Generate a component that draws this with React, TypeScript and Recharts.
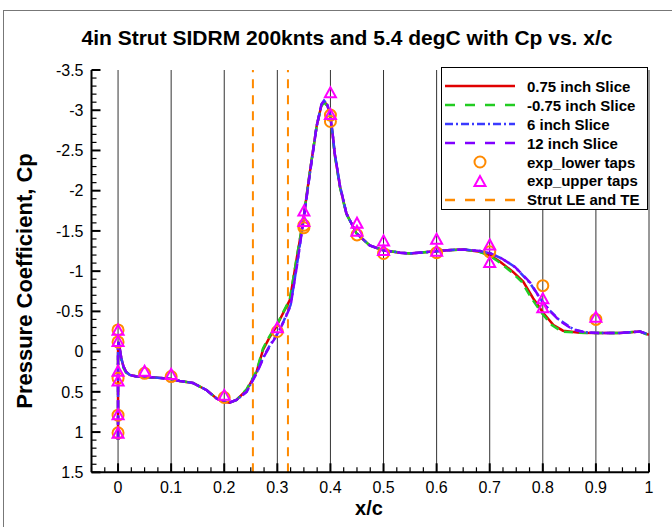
import React from "react";
import { ComposedChart, Line, Scatter, XAxis, YAxis, ReferenceLine, Legend } from "recharts";

const FONT = "'Liberation Sans', Arial, Helvetica, sans-serif";

const X_TICKS = [0, 0.1, 0.2, 0.3, 0.4, 0.5, 0.6, 0.7, 0.8, 0.9, 1];
const X_TICK_LABELS = ["0", "0.1", "0.2", "0.3", "0.4", "0.5", "0.6", "0.7", "0.8", "0.9", "1"];
const Y_TICKS = [-3.5, -3, -2.5, -2, -1.5, -1, -0.5, 0, 0.5, 1, 1.5];
const Y_TICK_LABELS = ["-3.5", "-3", "-2.5", "-2", "-1.5", "-1", "-0.5", "0", "0.5", "1", "1.5"];
// minor ticks: every 0.025 on x, every 0.1 on y
const X_ALL_TICKS = Array.from({ length: 43 }, (_, i) => Math.round((i - 2) * 25) / 1000);
const Y_ALL_TICKS = Array.from({ length: 51 }, (_, i) => (i - 35) / 10);

// strut leading / trailing edge
const STRUT_X = [0.254, 0.32];

// 0.75 inch slice
const X_075 = [0, 0, 0, 0, 0.001, 0.003, 0.006, 0.01, 0.015, 0.022, 0.035, 0.05, 0.075, 0.1, 0.116, 0.141, 0.167, 0.185, 0.198, 0.21, 0.223, 0.242, 0.261, 0.273, 0.286, 0.298, 0.311, 0.3235, 0.336, 0.349, 0.361, 0.374, 0.383, 0.388, 0.394, 0.399, 0.404, 0.408, 0.418, 0.43, 0.449, 0.474, 0.499, 0.531, 0.55, 0.587, 0.62, 0.65, 0.682, 0.7, 0.719, 0.744, 0.763, 0.782, 0.801, 0.82, 0.838, 0.87, 0.901, 0.945, 0.983, 1.0];
const CP_075 = [1.1, 0.6, 0.2, -0.05, -0.12, -0.05, 0.08, 0.18, 0.25, 0.29, 0.31, 0.315, 0.325, 0.34, 0.365, 0.39, 0.48, 0.58, 0.62, 0.635, 0.6, 0.48, 0.25, -0.02, -0.185, -0.31, -0.48, -0.64, -1.14, -1.64, -2.22, -2.8, -3.06, -3.11, -3.06, -2.96, -2.71, -2.46, -2.05, -1.72, -1.47, -1.32, -1.26, -1.23, -1.22, -1.24, -1.26, -1.27, -1.24, -1.2, -1.12, -0.99, -0.87, -0.66, -0.48, -0.33, -0.26, -0.235, -0.23, -0.23, -0.25, -0.21];

// -0.75 inch slice
const X_M075 = [0, 0, 0, 0, 0.001, 0.003, 0.006, 0.01, 0.015, 0.022, 0.035, 0.05, 0.075, 0.1, 0.116, 0.141, 0.167, 0.185, 0.198, 0.21, 0.223, 0.242, 0.261, 0.273, 0.286, 0.298, 0.311, 0.3235, 0.336, 0.349, 0.361, 0.374, 0.383, 0.388, 0.394, 0.399, 0.404, 0.408, 0.418, 0.43, 0.449, 0.474, 0.499, 0.531, 0.55, 0.587, 0.62, 0.65, 0.68, 0.698, 0.716, 0.741, 0.76, 0.779, 0.798, 0.817, 0.836, 0.868, 0.901, 0.945, 0.983, 1.0];
const CP_M075 = [1.1, 0.6, 0.2, -0.05, -0.1, -0.02, 0.1, 0.2, 0.26, 0.29, 0.31, 0.315, 0.325, 0.34, 0.365, 0.39, 0.48, 0.58, 0.62, 0.635, 0.6, 0.47, 0.24, -0.04, -0.2, -0.32, -0.49, -0.65, -1.15, -1.65, -2.22, -2.8, -3.05, -3.1, -3.05, -2.95, -2.7, -2.45, -2.04, -1.71, -1.47, -1.32, -1.26, -1.23, -1.22, -1.24, -1.26, -1.27, -1.24, -1.2, -1.12, -0.99, -0.87, -0.66, -0.48, -0.33, -0.25, -0.235, -0.23, -0.23, -0.25, -0.2];

// 6 inch slice
const X_6 = [0, 0, 0, 0, 0.001, 0.003, 0.006, 0.01, 0.015, 0.022, 0.035, 0.05, 0.075, 0.1, 0.116, 0.141, 0.167, 0.185, 0.198, 0.21, 0.223, 0.242, 0.262, 0.275, 0.288, 0.3, 0.312, 0.325, 0.337, 0.349, 0.361, 0.374, 0.383, 0.388, 0.394, 0.399, 0.404, 0.408, 0.418, 0.43, 0.449, 0.474, 0.499, 0.531, 0.55, 0.587, 0.62, 0.65, 0.682, 0.702, 0.722, 0.748, 0.776, 0.795, 0.812, 0.83, 0.857, 0.88, 0.905, 0.945, 0.983, 1.0];
const CP_6 = [1.1, 0.6, 0.2, -0.05, -0.12, -0.05, 0.08, 0.18, 0.25, 0.29, 0.31, 0.315, 0.325, 0.34, 0.365, 0.39, 0.48, 0.58, 0.62, 0.635, 0.6, 0.5, 0.25, 0.05, -0.1, -0.22, -0.38, -0.58, -1.08, -1.62, -2.2, -2.8, -3.07, -3.12, -3.07, -2.97, -2.72, -2.47, -2.06, -1.72, -1.47, -1.32, -1.26, -1.23, -1.22, -1.24, -1.26, -1.27, -1.25, -1.22, -1.16, -1.05, -0.85, -0.66, -0.52, -0.4, -0.28, -0.24, -0.23, -0.23, -0.25, -0.21];

// 12 inch slice
const X_12 = [0, 0, 0, 0, 0.001, 0.003, 0.006, 0.01, 0.015, 0.022, 0.035, 0.05, 0.075, 0.1, 0.116, 0.141, 0.167, 0.185, 0.198, 0.21, 0.223, 0.242, 0.262, 0.275, 0.288, 0.3, 0.312, 0.325, 0.337, 0.349, 0.361, 0.374, 0.383, 0.388, 0.394, 0.399, 0.404, 0.408, 0.418, 0.43, 0.449, 0.474, 0.499, 0.531, 0.55, 0.587, 0.62, 0.65, 0.682, 0.702, 0.722, 0.748, 0.776, 0.797, 0.814, 0.832, 0.858, 0.88, 0.905, 0.945, 0.983, 1.0];
const CP_12 = [1.1, 0.6, 0.2, -0.05, -0.12, -0.05, 0.08, 0.18, 0.25, 0.29, 0.31, 0.315, 0.325, 0.34, 0.365, 0.39, 0.48, 0.58, 0.62, 0.635, 0.6, 0.5, 0.26, 0.06, -0.09, -0.21, -0.37, -0.57, -1.07, -1.62, -2.2, -2.8, -3.07, -3.12, -3.07, -2.97, -2.72, -2.47, -2.06, -1.72, -1.47, -1.32, -1.26, -1.23, -1.22, -1.24, -1.26, -1.27, -1.25, -1.22, -1.16, -1.05, -0.86, -0.64, -0.5, -0.38, -0.27, -0.24, -0.23, -0.23, -0.25, -0.21];

// experiment taps
const LOWER_X = [0, 0, 0, 0, 0, 0.05, 0.1, 0.2, 0.3, 0.35, 0.35, 0.4, 0.4, 0.45, 0.5, 0.6, 0.7, 0.8, 0.9];
const LOWER_CP = [-0.27, -0.12, 0.33, 0.79, 1.01, 0.27, 0.31, 0.57, -0.25, -1.57, -1.54, -2.94, -2.86, -1.45, -1.22, -1.23, -1.24, -0.82, -0.4];
const UPPER_X = [0, 0, 0, 0, 0, 0, 0.05, 0.1, 0.2, 0.3, 0.35, 0.35, 0.4, 0.4, 0.45, 0.45, 0.5, 0.5, 0.6, 0.6, 0.7, 0.7, 0.8, 0.8, 0.9];
const UPPER_CP = [-0.26, -0.12, 0.25, 0.37, 0.79, 1.02, 0.25, 0.29, 0.55, -0.29, -1.74, -1.61, -3.21, -2.94, -1.59, -1.49, -1.37, -1.25, -1.39, -1.24, -1.32, -1.1, -0.65, -0.54, -0.42];

const pts = (xs: number[], ys: number[]) => xs.map((x, i) => ({ x, y: ys[i] }));

const ORANGE = "#ff8a00";
const MAGENTA = "#ff00ff";

const LEGEND = [
  { label: "0.75 inch Slice", kind: "line", color: "#e00000", dash: undefined },
  { label: "-0.75 inch Slice", kind: "line", color: "#22cc22", dash: "10 10" },
  { label: "6 inch Slice", kind: "line", color: "#3a3aff", dash: "8 3 2 3" },
  { label: "12 inch Slice", kind: "line", color: "#7f00ff", dash: "10 10" },
  { label: "exp_lower taps", kind: "circle", color: ORANGE, dash: undefined },
  { label: "exp_upper taps", kind: "triangle", color: MAGENTA, dash: undefined },
  { label: "Strut LE and TE", kind: "line", color: ORANGE, dash: "10 10" },
];

function XTick({ x, y, payload }: any) {
  const i = X_TICKS.findIndex((t) => Math.abs(t - payload.value) < 1e-6);
  const major = i >= 0;
  return (
    <g>
      <line x1={x} x2={x} y1={y} y2={y - (major ? 9 : 5)} stroke="#000" strokeWidth={major ? 2 : 1.2} />
      {major && (
        <text x={x} y={y + 20.5} textAnchor="middle" fontSize={16} fontFamily={FONT} fill="#000">
          {X_TICK_LABELS[i]}
        </text>
      )}
    </g>
  );
}

function YTick({ x, y, payload }: any) {
  const i = Y_TICKS.findIndex((t) => Math.abs(t - payload.value) < 1e-6);
  const major = i >= 0;
  return (
    <g>
      <line x1={x} x2={x + (major ? 9 : 5)} y1={y} y2={y} stroke="#000" strokeWidth={major ? 2 : 1.2} />
      {major && (
        <text x={x - 8} y={y + 5.7} textAnchor="end" fontSize={16} fontFamily={FONT} fill="#000">
          {Y_TICK_LABELS[i]}
        </text>
      )}
    </g>
  );
}

const CircleMark = (p: any) => (
  <circle cx={p.cx} cy={p.cy} r={5.5} fill="none" stroke={ORANGE} strokeWidth={2} />
);

const TriangleMark = (p: any) => (
  <polygon
    points={`${p.cx},${p.cy - 6} ${p.cx - 5.5},${p.cy + 4} ${p.cx + 5.5},${p.cy + 4}`}
    fill="none"
    stroke={MAGENTA}
    strokeWidth={2}
  />
);

function LegendBox() {
  return (
    <div
      style={{
        boxSizing: "border-box",
        width: 207,
        height: 143,
        border: "1px solid #000",
        background: "#fff",
        paddingTop: 9,
        fontFamily: FONT,
      }}
    >
      {LEGEND.map((item) => (
        <div key={item.label} style={{ display: "flex", alignItems: "center", height: 18.9 }}>
          <svg width={70} height={18} style={{ marginLeft: 3, flex: "none" }}>
            {item.kind === "line" && (
              <line x1={0} x2={70} y1={9} y2={9} stroke={item.color} strokeWidth={2.5} strokeDasharray={item.dash} />
            )}
            {item.kind === "circle" && <CircleMark cx={35} cy={9} />}
            {item.kind === "triangle" && <TriangleMark cx={35} cy={10} />}
          </svg>
          <span style={{ marginLeft: 12, fontSize: 15, fontWeight: "bold", whiteSpace: "nowrap" }}>{item.label}</span>
        </div>
      ))}
    </div>
  );
}

export default function App() {
  return (
    <div style={{ position: "absolute", left: 0, top: 0, width: 672, height: 527, background: "#fff", overflow: "hidden" }}>
      <div style={{ position: "absolute", left: 3, top: 10, width: 680, height: 530, borderTop: "1px solid #777", borderLeft: "1px solid #777" }} />
      <div
        style={{
          position: "absolute",
          left: 347,
          top: 38,
          transform: "translate(-50%, -50%)",
          whiteSpace: "nowrap",
          fontFamily: FONT,
          fontWeight: "bold",
          fontSize: 21,
        }}
      >
        4in Strut SIDRM 200knts and 5.4 degC with Cp vs. x/c
      </div>
      <div
        style={{
          position: "absolute",
          left: 25,
          top: 281,
          transform: "translate(-50%, -50%) rotate(-90deg)",
          whiteSpace: "nowrap",
          fontFamily: FONT,
          fontWeight: "bold",
          fontSize: 22,
        }}
      >
        Pressure Coefficient, Cp
      </div>
      <div
        style={{
          position: "absolute",
          left: 369,
          top: 508,
          transform: "translate(-50%, -50%)",
          whiteSpace: "nowrap",
          fontFamily: FONT,
          fontWeight: "bold",
          fontSize: 20,
          lineHeight: "20px",
        }}
      >
        x/c
      </div>
      <div style={{ position: "absolute", left: 0, top: 0 }}>
        <ComposedChart width={672} height={527} margin={{ top: 70, right: 23, bottom: 24.7, left: 31.5 }}>
          <XAxis
            type="number"
            dataKey="x"
            domain={[-0.05, 1]}
            allowDataOverflow
            ticks={X_ALL_TICKS}
            interval={0}
            tickSize={0}
            tickMargin={0}
            tickLine={false}
            tick={(p: any) => <XTick {...p} />}
            axisLine={{ stroke: "#000", strokeWidth: 2 }}
            height={30}
          />
          <YAxis
            type="number"
            dataKey="y"
            domain={[-3.5, 1.5]}
            reversed
            allowDataOverflow
            ticks={Y_ALL_TICKS}
            interval={0}
            tickSize={0}
            tickMargin={0}
            tickLine={false}
            tick={(p: any) => <YTick {...p} />}
            axisLine={{ stroke: "#000", strokeWidth: 2 }}
            width={60}
          />
          {X_TICKS.map((v) => (
            <ReferenceLine key={`g${v}`} x={v} stroke="#333" strokeWidth={1} />
          ))}
          {STRUT_X.map((v) => (
            <ReferenceLine key={`s${v}`} x={v} stroke={ORANGE} strokeWidth={2} strokeDasharray="9 7" />
          ))}
          <Line data={pts(X_075, CP_075)} dataKey="y" type="linear" stroke="#e00000" strokeWidth={2.5} dot={false} activeDot={false} isAnimationActive={false} />
          <Line data={pts(X_M075, CP_M075)} dataKey="y" type="linear" stroke="#22cc22" strokeWidth={2.5} strokeDasharray="9 6" dot={false} activeDot={false} isAnimationActive={false} />
          <Line data={pts(X_6, CP_6)} dataKey="y" type="linear" stroke="#3a3aff" strokeWidth={2.5} strokeDasharray="8 3 2 3" dot={false} activeDot={false} isAnimationActive={false} />
          <Line data={pts(X_12, CP_12)} dataKey="y" type="linear" stroke="#7f00ff" strokeWidth={2.5} strokeDasharray="10 5" dot={false} activeDot={false} isAnimationActive={false} />
          <Scatter data={pts(LOWER_X, LOWER_CP)} shape={CircleMark} isAnimationActive={false} />
          <Scatter data={pts(UPPER_X, UPPER_CP)} shape={TriangleMark} isAnimationActive={false} />
          <Legend
            layout="vertical"
            align="center"
            verticalAlign="middle"
            wrapperStyle={{ left: 441, top: 67, width: 207, height: 143 }}
            content={() => <LegendBox />}
          />
        </ComposedChart>
      </div>
    </div>
  );
}
